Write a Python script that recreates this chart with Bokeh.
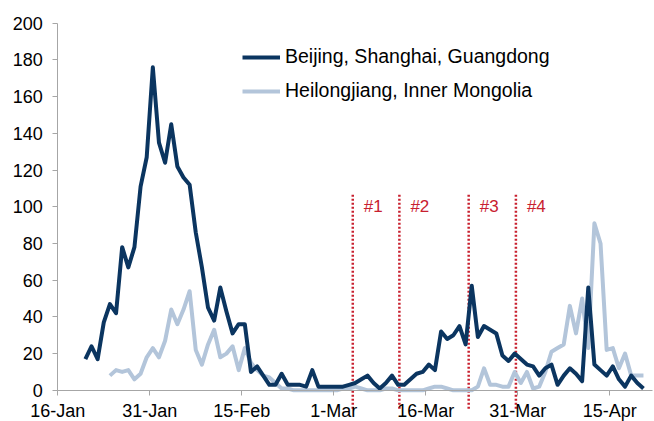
import numpy as np
import pandas as pd
from bokeh.plotting import figure
from bokeh.models import Range1d, FixedTicker, Legend, LegendItem, ColumnDataSource
from bokeh.embed import file_html
from bokeh.resources import INLINE
from bokeh.core.properties import value

# ---------------- data ----------------
origin = "2020-01-16"

dark_name = "Beijing, Shanghai, Guangdong"
dark_start = "2020-01-20"
dark_vals = [17, 24, 17, 37, 47, 42, 78, 67, 78, 111,
             127, 176, 135, 124, 145, 122, 116, 112, 86, 67,
             45, 38, 56, 43, 31, 36, 36, 10, 13, 8,
             3, 3, 9, 3, 3, 3, 2, 11, 2, 2,
             2, 2, 2, 3, 4, 6, 8, 4, 1, 4,
             8, 3, 3, 6, 9, 10, 14, 11, 32, 28,
             30, 35, 25, 57, 29, 35, 33, 31, 19, 16,
             20, 17, 14, 13, 8, 12, 14, 3, 8, 12,
             9, 5, 56, 14, 11, 8, 13, 6, 2, 8,
             4, 1]

light_name = "Heilongjiang, Inner Mongolia"
light_start = "2020-01-24"
light_vals = [8, 11, 10, 11, 6, 9, 18, 23, 18, 27,
              44, 36, 44, 54, 22, 14, 25, 33, 18, 20,
              24, 11, 23, 15, 11, 8, 7, 4, 1, 1,
              0, 0, 0, 0, 0, 0, 0, 0, 1, 1,
              2, 1, 0, 0, 0, 1, 1, 0, 0, 0,
              0, 0, 1, 2, 2, 1, 0, 0, 0, 0,
              2, 12, 3, 3, 2, 2, 10, 4, 10, 1,
              2, 10, 21, 23, 25, 46, 31, 50, 23, 91,
              80, 22, 23, 12, 20, 8, 8, 8]

tick_dates = ["2020-01-16", "2020-01-31", "2020-02-15", "2020-03-01",
              "2020-03-16", "2020-03-31", "2020-04-15"]
tick_labels = ["16-Jan", "31-Jan", "15-Feb", "1-Mar", "16-Mar", "31-Mar", "15-Apr"]
y_ticks = [0, 20, 40, 60, 80, 100, 120, 140, 160, 180, 200]
x_axis_end = 97
y_axis_end = 200

event_days = [48.1, 55.7, 67.0, 74.7]   # days after 16-Jan
event_labels = ["#1", "#2", "#3", "#4"]
event_top = 107
event_bottom = -10
event_label_y = 100

# ---------------- helpers ----------------
t0 = pd.Timestamp(origin)

def day_offsets(start, n):
    d = pd.date_range(start, periods=n, freq="D")
    return np.array((d - t0).days, dtype=float) + 0.5

dark_x = day_offsets(dark_start, len(dark_vals))
light_x = day_offsets(light_start, len(light_vals))
tick_x = [int((pd.Timestamp(d) - t0).days) for d in tick_dates]

FONT = "Liberation Sans"
DARK = "#0B3560"
LIGHT = "#B3C5DA"
RED = "#C8202F"
AXIS = "#A6A6A6"

# frame covers the whole canvas; axes are pinned at x=0 / y=0
p = figure(width=654, height=421,
           x_range=Range1d(-9.34, 97.3), y_range=Range1d(-17, 212.4),
           output_backend="svg", toolbar_location=None,
           min_border_left=0, min_border_right=0,
           min_border_top=0, min_border_bottom=0)
p.outline_line_color = None
p.xgrid.visible = False
p.ygrid.visible = False
p.background_fill_color = "white"
p.border_fill_color = "white"

# event lines
n_ev = len(event_days)
ev_src = ColumnDataSource(dict(x=event_days, y0=[event_bottom] * n_ev,
                               y1=[event_top] * n_ev, lab=event_labels,
                               ly=[event_label_y] * n_ev))
p.segment(x0="x", y0="y0", x1="x", y1="y1", source=ev_src,
          line_color=RED, line_width=2.5, line_dash="2 2")
p.text(x="x", y="ly", text="lab", source=ev_src, x_offset=11,
       text_align="left", text_baseline="middle", text_color=RED,
       text_font=value(FONT), text_font_size="17px")

r_light = p.line(light_x, light_vals, line_color=LIGHT, line_width=4, line_join="round")
r_dark = p.line(dark_x, dark_vals, line_color=DARK, line_width=4, line_join="round")

# axes
xa = p.xaxis[0]
xa.fixed_location = 0
xa.bounds = (0, x_axis_end)
xa.ticker = FixedTicker(ticks=tick_x)
xa.major_label_overrides = {t: l for t, l in zip(tick_x, tick_labels)}
xa.minor_tick_line_color = None
xa.major_tick_out = 5
xa.major_tick_in = 0
xa.major_label_standoff = 6
xa.axis_line_color = AXIS
xa.major_tick_line_color = AXIS
xa.major_label_text_font = FONT
xa.major_label_text_font_size = "18px"
xa.major_label_text_color = "black"

ya = p.yaxis[0]
ya.fixed_location = 0
ya.bounds = (0, y_axis_end)
ya.ticker = FixedTicker(ticks=y_ticks)
ya.minor_tick_line_color = None
ya.major_tick_out = 5
ya.major_tick_in = 0
ya.major_label_standoff = 10
ya.axis_line_color = AXIS
ya.major_tick_line_color = AXIS
ya.major_label_text_font = FONT
ya.major_label_text_font_size = "18px"
ya.major_label_text_color = "black"

legend = Legend(items=[LegendItem(label=dark_name, renderers=[r_dark]),
                       LegendItem(label=light_name, renderers=[r_light])],
                location=(242, 319), orientation="vertical",
                padding=0, margin=0, spacing=11,
                glyph_width=38, glyph_height=20, label_height=20,
                label_standoff=5, border_line_color=None,
                background_fill_alpha=0,
                label_text_font=FONT, label_text_font_size="19.5px",
                label_text_color="black")
p.add_layout(legend)

open("out.html", "w").write(file_html(p, INLINE))
